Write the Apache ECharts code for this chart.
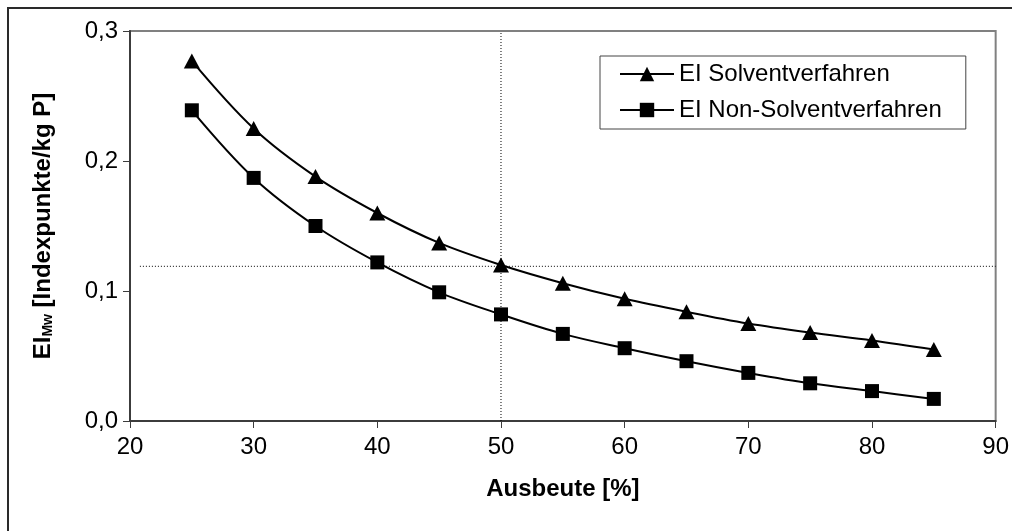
<!DOCTYPE html>
<html>
<head>
<meta charset="utf-8">
<script src="https://cdn.jsdelivr.net/npm/echarts@6/dist/echarts.min.js"></script>
<style>
html,body{margin:0;padding:0;background:#fff;}
#chart{width:1012px;height:531px;}
</style>
</head>
<body>
<div id="chart"></div>
<script>
const yields = [25, 30, 35, 40, 45, 50, 55, 60, 65, 70, 75, 80, 85];
const eiSolvent = [0.277, 0.225, 0.188, 0.160, 0.137, 0.120, 0.106, 0.094, 0.084, 0.075, 0.068, 0.062, 0.055];
const eiNonSolvent = [0.239, 0.187, 0.150, 0.122, 0.099, 0.082, 0.067, 0.056, 0.046, 0.037, 0.029, 0.023, 0.017];
const seriesNames = ['EI Solventverfahren', 'EI Non-Solventverfahren'];
const refVertical = [[50, 0], [50, 0.3]];
const refHorizontal = [[20.8, 0.119], [90, 0.119]];
const xTitle = 'Ausbeute [%]';

const FONT = '"Liberation Sans", Arial, sans-serif';
const chart = echarts.init(document.getElementById('chart'));

function pairs(xs, ys) { return xs.map((x, i) => [x, ys[i]]); }

chart.setOption({
  animation: false,
  backgroundColor: '#fff',
  textStyle: { fontFamily: FONT, color: '#000' },
  graphic: [{
    type: 'rect', silent: true, z: 100,
    shape: { x: 8, y: 8, width: 1100, height: 600 },
    style: { fill: 'none', stroke: '#2a2a2a', lineWidth: 2 }
  }],
  grid: {
    left: 130, right: 14, top: 31, bottom: 110,
    show: true, borderColor: '#808080', borderWidth: 2, backgroundColor: '#fff'
  },
  legend: {
    left: 600, top: 56,
    orient: 'vertical',
    data: seriesNames,
    itemWidth: 54, itemHeight: 18, itemGap: 12,
    padding: [6, 24, 7, 19],
    borderColor: '#444', borderWidth: 1,
    textStyle: { fontFamily: FONT, fontSize: 24, color: '#000' },
    inactiveColor: '#000'
  },
  xAxis: {
    type: 'value', min: 20, max: 90, interval: 10,
    name: xTitle, nameLocation: 'middle', nameGap: 56,
    nameTextStyle: { fontFamily: FONT, fontSize: 24, fontWeight: 'bold', color: '#000' },
    axisLine: { show: true, onZero: false, lineStyle: { color: '#3c3c3c', width: 2 } },
    axisTick: { show: true, inside: false, length: 7, lineStyle: { color: '#3c3c3c', width: 1 } },
    axisLabel: { fontFamily: FONT, fontSize: 24, color: '#000', margin: 14 },
    splitLine: { show: false }
  },
  yAxis: {
    type: 'value', min: 0, max: 0.3, interval: 0.1,
    name: '{a|EI}{s|Mw}{a| [Indexpunkte/kg P]}',
    nameLocation: 'middle', nameGap: 72, nameRotate: 90,
    nameTextStyle: {
      fontFamily: FONT, color: '#000',
      rich: {
        a: { fontFamily: FONT, fontSize: 24, fontWeight: 'bold', color: '#000', lineHeight: 30 },
        s: { fontFamily: FONT, fontSize: 14, fontWeight: 'bold', color: '#000', lineHeight: 14, verticalAlign: 'bottom', padding: [0, 0, 3, 0] }
      }
    },
    axisLine: { show: true, onZero: false, lineStyle: { color: '#3c3c3c', width: 2 } },
    axisTick: { show: true, inside: false, length: 7, lineStyle: { color: '#3c3c3c', width: 1 } },
    axisLabel: {
      fontFamily: FONT, fontSize: 24, color: '#000', margin: 12,
      formatter: v => v.toFixed(1).replace('.', ',')
    },
    splitLine: { show: false }
  },
  series: [
    {
      name: 'refV', type: 'line', data: refVertical, symbol: 'none', silent: true,
      lineStyle: { color: '#000', width: 1, type: [1, 2] }, z: 1
    },
    {
      name: 'refH', type: 'line', data: refHorizontal, symbol: 'none', silent: true,
      lineStyle: { color: '#000', width: 1, type: [1, 2] }, z: 1
    },
    {
      name: seriesNames[0], type: 'line', data: pairs(yields, eiSolvent),
      smooth: 0.35, symbol: 'triangle', symbolSize: [16, 15],
      itemStyle: { color: '#000' }, lineStyle: { color: '#000', width: 2 }, z: 3
    },
    {
      name: seriesNames[1], type: 'line', data: pairs(yields, eiNonSolvent),
      smooth: 0.35, symbol: 'rect', symbolSize: 14,
      itemStyle: { color: '#000' }, lineStyle: { color: '#000', width: 2 }, z: 3
    }
  ]
});
</script>
</body>
</html>
